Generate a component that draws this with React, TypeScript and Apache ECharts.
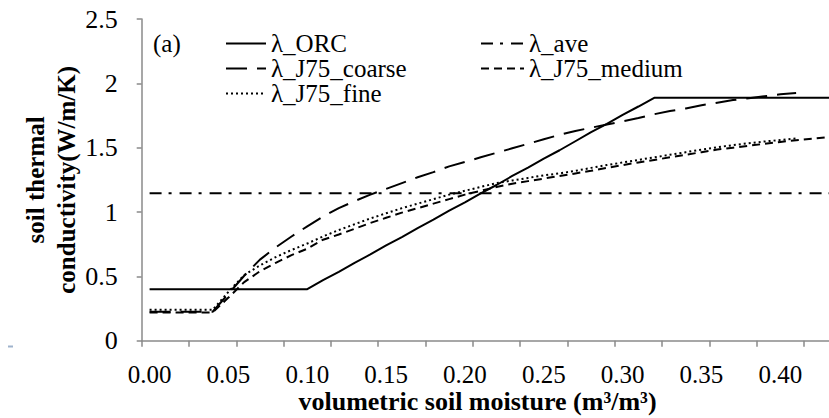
import React, { useEffect, useRef } from "react";
import * as echarts from "echarts";

const categories = [
  "0.00","0.01","0.02","0.03","0.04","0.05","0.06","0.07","0.08","0.09",
  "0.10","0.11","0.12","0.13","0.14","0.15","0.16","0.17","0.18","0.19",
  "0.20","0.21","0.22","0.23","0.24","0.25","0.26","0.27","0.28","0.29",
  "0.30","0.31","0.32","0.33","0.34","0.35","0.36","0.37","0.38","0.39",
  "0.40","0.41","0.42","0.43","0.44",
];

const lambdaORC = [
  0.4, 0.4, 0.4, 0.4, 0.4, 0.4, 0.4, 0.4, 0.4, 0.4,
  0.4, 0.47, 0.535, 0.605, 0.67, 0.74, 0.805, 0.875, 0.94, 1.01,
  1.075, 1.145, 1.21, 1.28, 1.345, 1.415, 1.48, 1.55, 1.62, 1.685,
  1.755, 1.82, 1.888, 1.888, 1.888, 1.888, 1.888, 1.888, 1.888, 1.888,
  1.888, 1.888, 1.888, 1.888, 1.888,
];

const lambdaAve = [
  1.145, 1.145, 1.145, 1.145, 1.145, 1.145, 1.145, 1.145, 1.145, 1.145,
  1.145, 1.145, 1.145, 1.145, 1.145, 1.145, 1.145, 1.145, 1.145, 1.145,
  1.145, 1.145, 1.145, 1.145, 1.145, 1.145, 1.145, 1.145, 1.145, 1.145,
  1.145, 1.145, 1.145, 1.145, 1.145, 1.145, 1.145, 1.145, 1.145, 1.145,
  1.145, 1.145, 1.145, 1.145, 1.145,
];

const lambdaCoarse: (number | string)[] = [
  0.225, 0.225, 0.225, 0.225, 0.225, 0.365, 0.505, 0.63, 0.725, 0.81,
  0.889, 0.965, 1.03, 1.085, 1.135, 1.18, 1.225, 1.27, 1.31, 1.355,
  1.39, 1.425, 1.46, 1.495, 1.53, 1.565, 1.6, 1.63, 1.655, 1.68,
  1.705, 1.73, 1.76, 1.785, 1.805, 1.83, 1.85, 1.87, 1.885, 1.9,
  1.915, 1.925, "-", "-", "-",
];

const lambdaMedium = [
  0.22, 0.22, 0.22, 0.22, 0.22, 0.335, 0.455, 0.54, 0.605, 0.665,
  0.715, 0.785, 0.825, 0.87, 0.915, 0.955, 0.995, 1.03, 1.065, 1.1,
  1.135, 1.165, 1.195, 1.22, 1.24, 1.26, 1.28, 1.3, 1.32, 1.343,
  1.365, 1.385, 1.405, 1.425, 1.445, 1.465, 1.485, 1.5, 1.515, 1.53,
  1.545, 1.558, 1.57, 1.582, 1.593,
];

const lambdaFine: (number | string)[] = [
  0.24, 0.24, 0.24, 0.24, 0.24, 0.38, 0.51, 0.585, 0.65, 0.705,
  0.755, 0.81, 0.86, 0.905, 0.95, 0.99, 1.03, 1.065, 1.1, 1.135,
  1.165, 1.195, 1.225, 1.245, 1.265, 1.285, 1.3, 1.32, 1.343, 1.365,
  1.385, 1.405, 1.425, 1.445, 1.465, 1.485, 1.503, 1.52, 1.535, 1.548,
  1.56, 1.572, "-", "-", "-",
];

const FONT = "Liberation Serif";

export default function App() {
  const ref = useRef<HTMLDivElement>(null);
  useEffect(() => {
    if (!ref.current) return;
    const chart = echarts.init(ref.current, undefined, { renderer: "svg" });
    const lineW = 2;
    const legendText = { fontFamily: FONT, fontSize: 25, lineHeight: 23.5, color: "#000" };
    chart.setOption({
      animation: false,
      backgroundColor: "#ffffff",
      grid: {
        left: 141.7,
        top: 19,
        bottom: 77.3,
        right: -22.3,
        containLabel: false,
        outerBoundsMode: "none",
      },
      legend: [
        {
          data: ["λ_ORC", "λ_J75_coarse", "λ_J75_fine"],
          orient: "vertical",
          left: 225,
          top: 31,
          padding: 0,
          itemWidth: 40,
          itemHeight: 12,
          itemGap: 0,
          selectedMode: false,
          itemStyle: { opacity: 0 },
          textStyle: legendText,
        },
        {
          data: ["λ_ave", "λ_J75_medium"],
          orient: "vertical",
          left: 480,
          top: 31,
          padding: 0,
          itemWidth: 43,
          itemHeight: 12,
          itemGap: 0,
          selectedMode: false,
          itemStyle: { opacity: 0 },
          textStyle: legendText,
        },
      ],
      xAxis: {
        type: "category",
        data: categories,
        boundaryGap: true,
        name: "volumetric soil moisture (m³/m³)",
        nameLocation: "middle",
        nameGap: 48,
        nameMoveOverlap: false,
        nameTextStyle: {
          fontFamily: FONT,
          fontSize: 26,
          fontWeight: "bold",
          color: "#000",
          padding: [0, 38, 0, 0],
        },
        axisLine: { lineStyle: { color: "#8a8a8a", width: 1.5 } },
        axisTick: { show: true, interval: 2, length: 6, lineStyle: { color: "#8a8a8a", width: 1.5 } },
        axisLabel: { interval: 4, margin: 21, fontFamily: FONT, fontSize: 25, color: "#000" },
        splitLine: { show: false },
      },
      yAxis: {
        type: "value",
        min: 0,
        max: 2.5,
        interval: 0.5,
        name: "soil thermal\nconductivity(W/m/K)",
        nameLocation: "middle",
        nameRotate: 90,
        nameGap: 60,
        nameMoveOverlap: false,
        nameTextStyle: {
          fontFamily: FONT,
          fontSize: 25,
          fontWeight: "bold",
          color: "#000",
          lineHeight: 31,
        },
        axisLine: { show: true, lineStyle: { color: "#8a8a8a", width: 1.5 } },
        axisTick: { show: true, length: 5, lineStyle: { color: "#8a8a8a", width: 1.5 } },
        axisLabel: { margin: 24, fontFamily: FONT, fontSize: 26, color: "#000" },
        splitLine: { show: false },
      },
      series: [
        {
          name: "λ_ORC",
          type: "line",
          data: lambdaORC,
          symbol: "none",
          lineStyle: { color: "#000", width: lineW, type: "solid" },
          itemStyle: { color: "#000" },
        },
        {
          name: "λ_ave",
          type: "line",
          data: lambdaAve,
          symbol: "none",
          lineStyle: { color: "#000", width: lineW, type: [12, 7, 3, 8] },
          itemStyle: { color: "#000" },
        },
        {
          name: "λ_J75_coarse",
          type: "line",
          data: lambdaCoarse,
          symbol: "none",
          lineStyle: { color: "#000", width: lineW, type: [21, 10] },
          itemStyle: { color: "#000" },
        },
        {
          name: "λ_J75_medium",
          type: "line",
          data: lambdaMedium,
          symbol: "none",
          lineStyle: { color: "#000", width: lineW, type: [8, 5] },
          itemStyle: { color: "#000" },
        },
        {
          name: "λ_J75_fine",
          type: "line",
          data: lambdaFine,
          symbol: "none",
          lineStyle: { color: "#000", width: lineW, type: [2, 3] },
          itemStyle: { color: "#000" },
        },
      ],
      graphic: [
        {
          type: "text",
          left: 153,
          top: 31,
          style: { text: "(a)", fontFamily: FONT, fontSize: 25, fill: "#000" },
        },
        {
          type: "rect",
          left: 8,
          top: 345.5,
          shape: { width: 5, height: 2 },
          style: { fill: "#9fb3cc" },
        },
      ],
    });
    return () => chart.dispose();
  }, []);
  return (
    <div style={{ position: "fixed", left: 0, top: 0, width: 829, height: 418, overflow: "hidden", background: "#fff" }}>
      <div ref={ref} style={{ width: 829, height: 418 }} />
    </div>
  );
}
